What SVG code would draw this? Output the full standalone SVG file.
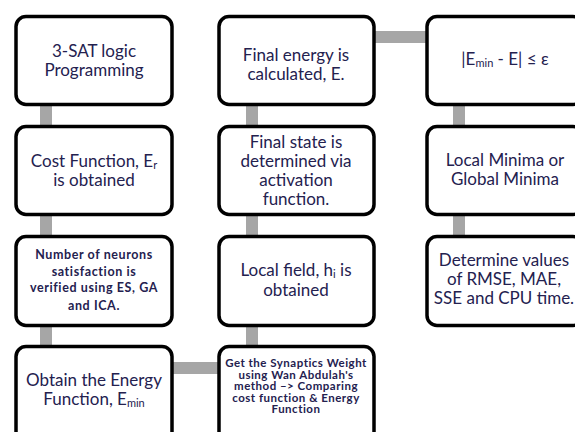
<svg xmlns="http://www.w3.org/2000/svg" width="575" height="432" viewBox="0 0 575 432">
<style>
.box{fill:#fff;stroke:#000;stroke-width:3.5}
.t{font-family:Lato,"Open Sans","Liberation Sans",sans-serif;fill:#24214f;text-anchor:middle;font-size:17px}
.s{font-family:Lato,"Open Sans","Liberation Sans",sans-serif;fill:#24214f;text-anchor:middle;font-size:12.5px;font-weight:bold;letter-spacing:0.6px}
.w{font-family:Lato,"Open Sans","Liberation Sans",sans-serif;fill:#24214f;text-anchor:middle;font-size:11.5px;font-weight:bold;letter-spacing:0.5px}
.c{fill:#a6a6a6}
.sub{font-size:11px}
</style>
<rect width="575" height="432" fill="#fff"/>
<g id="connectors">
<rect class="c" x="40" y="104" width="12" height="24"/>
<rect class="c" x="40" y="214" width="12" height="24"/>
<rect class="c" x="40" y="325" width="12" height="24"/>
<rect class="c" x="246" y="104" width="12" height="24"/>
<rect class="c" x="246" y="214" width="12" height="24"/>
<rect class="c" x="246" y="325" width="12" height="24"/>
<rect class="c" x="453" y="104" width="12" height="24"/>
<rect class="c" x="453" y="214" width="12" height="24"/>
<rect class="c" x="172" y="362" width="48" height="12"/>
<rect class="c" x="373" y="31" width="54" height="12"/>
</g>
<g id="n1"><rect class="box" x="16" y="16.5" width="156" height="88" rx="10"/>
<text class="t" x="94" y="57">3-SAT logic</text><text class="t" x="94" y="76">Programming</text></g>
<g id="n2"><rect class="box" x="16" y="126.5" width="156" height="88" rx="10"/>
<text class="t" x="94" y="167">Cost Function, E<tspan class="sub" dy="2">r</tspan></text><text class="t" x="94" y="186">is obtained</text></g>
<g id="n3"><rect class="box" x="16" y="236.5" width="156" height="89" rx="10"/>
<text class="s" x="94" y="259">Number of neurons</text>
<text class="s" x="94" y="276">satisfaction  is</text>
<text class="s" x="94" y="292">verified  using ES, GA</text>
<text class="s" x="94" y="310">and ICA.</text></g>
<g id="n4"><rect class="box" x="16" y="346.5" width="156" height="100" rx="10"/>
<text class="t" x="94" y="386">Obtain the Energy</text><text class="t" x="94" y="405">Function, E<tspan class="sub" dy="2">min</tspan></text></g>
<g id="n5"><rect class="box" x="219" y="16.5" width="155" height="88" rx="10"/>
<text class="t" x="296" y="60.5">Final energy is</text><text class="t" x="296" y="80">calculated, E.</text></g>
<g id="n6"><rect class="box" x="219" y="126.5" width="155" height="88" rx="10"/>
<text class="t" x="296" y="148">Final state is</text><text class="t" x="296" y="167">determined via</text><text class="t" x="296" y="186">activation</text><text class="t" x="296" y="205">function.</text></g>
<g id="n7"><rect class="box" x="219" y="236.5" width="155" height="89" rx="10"/>
<text class="t" x="296" y="276">Local field, h<tspan class="sub" dy="2">i</tspan><tspan dy="-2"> is</tspan></text><text class="t" x="296" y="296">obtained</text></g>
<g id="n8"><rect class="box" x="219" y="346.5" width="155" height="100" rx="10"/>
<text class="w" x="296" y="367">Get the Synaptics Weight</text>
<text class="w" x="296" y="378.5">using Wan Abdulah's</text>
<text class="w" x="296" y="390">method –&gt; Comparing</text>
<text class="w" x="296" y="401.5">cost function  &amp; Energy</text>
<text class="w" x="296" y="413">Function</text></g>
<g id="n9"><rect class="box" x="427" y="16.5" width="156" height="88" rx="10"/>
<text class="t" x="505" y="65">|E<tspan class="sub" dy="2">min</tspan><tspan dy="-2"> - E|  ≤ ε</tspan></text></g>
<g id="n10"><rect class="box" x="427" y="126.5" width="156" height="88" rx="10"/>
<text class="t" x="505" y="166">Local Minima or</text><text class="t" x="505" y="185">Global Minima</text></g>
<g id="n11"><rect class="box" x="427" y="236.5" width="156" height="89" rx="10"/>
<text class="t" x="504" y="266">Determine values</text><text class="t" x="504" y="285">of RMSE, MAE,</text><text class="t" x="504" y="304">SSE and CPU time.</text></g>
</svg>
